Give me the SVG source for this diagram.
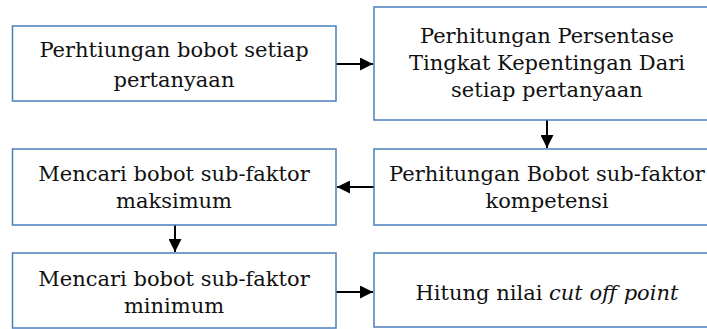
<svg xmlns="http://www.w3.org/2000/svg" width="707" height="329" viewBox="0 0 707 329">
<defs>
<style>
.box{fill:#fff;stroke:#4a7ebb;stroke-width:1.5}
.t{font-family:"DejaVu Serif","Liberation Serif",serif;font-size:21px;fill:#111;text-anchor:middle}
.c{stroke:#000;stroke-width:2;fill:none}
</style>
<marker id="ah" markerWidth="13" markerHeight="13" refX="13" refY="6.5" orient="auto" markerUnits="userSpaceOnUse">
<path d="M0,0 L13,6.5 L0,13 Z" fill="#000"/>
</marker>
</defs>
<rect width="707" height="329" fill="#fff"/>
<g id="connectors">
<line class="c" x1="336" y1="64" x2="373" y2="64" marker-end="url(#ah)"/>
<line class="c" x1="547" y1="120" x2="547" y2="148" marker-end="url(#ah)"/>
<line class="c" x1="374" y1="187" x2="337" y2="187" marker-end="url(#ah)"/>
<line class="c" x1="175" y1="225" x2="175" y2="252" marker-end="url(#ah)"/>
<line class="c" x1="336" y1="292" x2="373" y2="292" marker-end="url(#ah)"/>
</g>
<g id="n1">
<rect class="box" x="12.5" y="26" width="323.5" height="75"/>
<text class="t" x="174" y="57">Perhtiungan bobot setiap</text>
<text class="t" x="174" y="87">pertanyaan</text>
</g>
<g id="n2">
<rect class="box" x="374" y="7" width="346" height="113"/>
<text class="t" x="547" y="42.5">Perhitungan Persentase</text>
<text class="t" x="547" y="69.5">Tingkat Kepentingan Dari</text>
<text class="t" x="547" y="96.5">setiap pertanyaan</text>
</g>
<g id="n3">
<rect class="box" x="374" y="149" width="346" height="76"/>
<text class="t" x="547" y="181">Perhitungan Bobot sub-faktor</text>
<text class="t" x="547" y="208">kompetensi</text>
</g>
<g id="n4">
<rect class="box" x="12.5" y="149" width="323.5" height="76"/>
<text class="t" x="174" y="181">Mencari bobot sub-faktor</text>
<text class="t" x="174" y="208">maksimum</text>
</g>
<g id="n5">
<rect class="box" x="12.5" y="253" width="323.5" height="75"/>
<text class="t" x="174" y="285.5">Mencari bobot sub-faktor</text>
<text class="t" x="174" y="312.5">minimum</text>
</g>
<g id="n6">
<rect class="box" x="374" y="253" width="346" height="74"/>
<text class="t" x="547" y="300">Hitung nilai <tspan font-style="italic">cut off point</tspan></text>
</g>
</svg>
